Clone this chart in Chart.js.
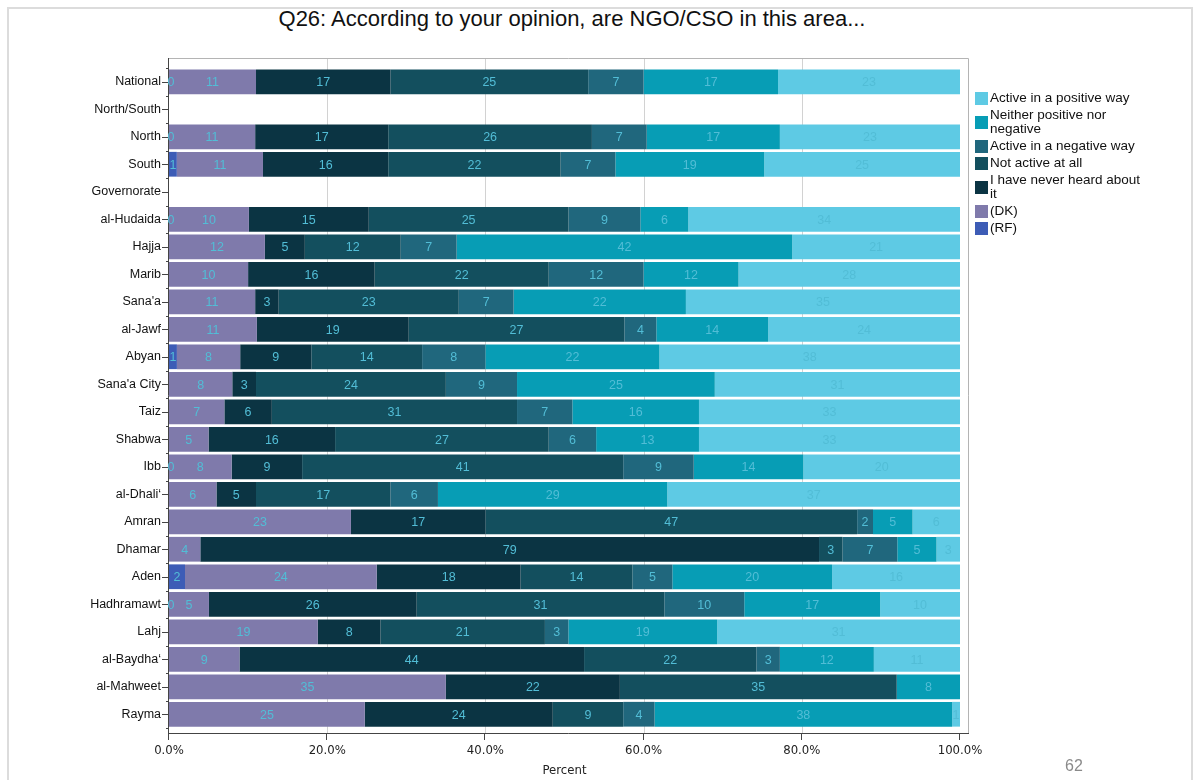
<!DOCTYPE html>
<html lang="en">
<head>
    <meta charset="UTF-8">
    <title>Q26 NGO/CSO activity</title>
    <script src="https://cdn.jsdelivr.net/npm/chart.js"></script>
    <style>
        body {
            margin: 0;
            padding: 0;
            background: #fff;
            font-family: 'Liberation Sans', Arial, sans-serif;
        }
        .page {
            position: relative;
            width: 1198px;
            height: 780px;
            overflow: hidden;
        }
        .frame {
            position: absolute;
            left: 7px;
            top: 7px;
            width: 1182px;
            height: 820px;
            border: 2px solid #dcdcdc;
        }
        .title {
            position: absolute;
            left: 0;
            width: 1144px;
            top: 6px;
            text-align: center;
            font-size: 22px;
            color: #111;
        }
        canvas {
            position: absolute;
            left: 0;
            top: 0;
        }
        .legend {
            position: absolute;
            left: 975px;
            top: 91px;
            width: 178px;
            font-size: 13.5px;
            line-height: 14px;
            color: #111;
        }
        .legend .item {
            display: flex;
            align-items: center;
            margin-bottom: 3px;
        }
        .legend .sw {
            flex: none;
            width: 13px;
            height: 13px;
            margin-right: 2px;
        }
        .pagenum {
            position: absolute;
            left: 1065px;
            top: 757px;
            font-size: 16px;
            color: #8a8a8a;
        }
    </style>
</head>
<body>
<div class="page">
    <div class="frame"></div>
    <div class="title">Q26: According to your opinion, are NGO/CSO in this area...</div>
    <canvas id="chart" width="1198" height="780"></canvas>
    <div class="legend" id="legend"></div>
    <div class="pagenum">62</div>
</div>
<script>
    const areas = ['National', 'North/South', 'North', 'South', 'Governorate', 'al-Hudaida', 'Hajja', 'Marib',
        "Sana'a", 'al-Jawf', 'Abyan', "Sana'a City", 'Taiz', 'Shabwa', 'Ibb', 'al-Dhali\u2018', 'Amran', 'Dhamar',
        'Aden', 'Hadhramawt', 'Lahj', 'al-Baydha\u2018', 'al-Mahweet', 'Rayma'];

    // answer shares in percent, one entry per area (null = no answer / heading row)
    const refused     = [0, null, 0, 1, null, 0, null, null, null, null, 1, null, null, null, 0, null, null, null, 2, 0, null, null, null, null];
    const dontKnow    = [11, null, 11, 11, null, 10, 12, 10, 11, 11, 8, 8, 7, 5, 8, 6, 23, 4, 24, 5, 19, 9, 35, 25];
    const neverHeard  = [17, null, 17, 16, null, 15, 5, 16, 3, 19, 9, 3, 6, 16, 9, 5, 17, 79, 18, 26, 8, 44, 22, 24];
    const notActive   = [25, null, 26, 22, null, 25, 12, 22, 23, 27, 14, 24, 31, 27, 41, 17, 47, 3, 14, 31, 21, 22, 35, 9];
    const negativeWay = [7, null, 7, 7, null, 9, 7, 12, 7, 4, 8, 9, 7, 6, 9, 6, 2, 7, 5, 10, 3, 3, null, 4];
    const neither     = [17, null, 17, 19, null, 6, 42, 12, 22, 14, 22, 25, 16, 13, 14, 29, 5, 5, 20, 17, 19, 12, 8, 38];
    const positiveWay = [23, null, 23, 25, null, 34, 21, 28, 35, 24, 38, 31, 33, 33, 20, 37, 6, 3, 16, 10, 31, 11, null, 1];

    const xTicks = [0, 20, 40, 60, 80, 100];

    const series = [
        { label: '(RF)', values: refused, color: '#3d5cb6' },
        { label: '(DK)', values: dontKnow, color: '#7f7aab' },
        { label: 'I have never heard about it', values: neverHeard, color: '#0b3443' },
        { label: 'Not active at all', values: notActive, color: '#134f5e' },
        { label: 'Active in a negative way', values: negativeWay, color: '#20677d' },
        { label: 'Neither positive nor negative', values: neither, color: '#079db5' },
        { label: 'Active in a positive way', values: positiveWay, color: '#5ecae4' }
    ];

    // rounded shares don't always add up to 100, so each bar is scaled to its row total
    const rowTotals = areas.map((_, i) => series.reduce((s, d) => s + (d.values[i] || 0), 0));

    const datasets = series.map(s => ({
        label: s.label,
        raw: s.values,
        data: s.values.map((v, i) => v === null ? null : v / rowTotals[i] * 100),
        backgroundColor: s.color,
        borderWidth: 0,
        barPercentage: 0.9,
        categoryPercentage: 1.0
    }));

    const FRAME_TOP = 10, FRAME_BOTTOM = 5, FRAME_RIGHT = 8;

    // gridlines, frame and tick marks around the plot
    const framePlugin = {
        id: 'frame',
        beforeDatasetsDraw(chart) {
            const { ctx, chartArea: a, scales: { x } } = chart;
            ctx.save();
            ctx.strokeStyle = '#d2d2d2';
            ctx.lineWidth = 1;
            xTicks.slice(1, -1).forEach(t => {
                const px = Math.round(x.getPixelForValue(t)) + 0.5;
                ctx.beginPath();
                ctx.moveTo(px, a.top - FRAME_TOP);
                ctx.lineTo(px, a.bottom + FRAME_BOTTOM);
                ctx.stroke();
            });
            ctx.restore();
        },
        afterDatasetsDraw(chart) {
            const { ctx, chartArea: a, scales: { x, y } } = chart;
            const top = a.top - FRAME_TOP, bottom = a.bottom + FRAME_BOTTOM, right = a.right + FRAME_RIGHT;
            ctx.save();
            ctx.lineWidth = 1;
            ctx.strokeStyle = '#b4b4b4';
            ctx.beginPath();
            ctx.moveTo(a.left, top + 0.5);
            ctx.lineTo(right + 0.5, top + 0.5);
            ctx.lineTo(right + 0.5, bottom);
            ctx.stroke();

            ctx.strokeStyle = '#444';
            ctx.beginPath();
            ctx.moveTo(a.left - 0.5, top);
            ctx.lineTo(a.left - 0.5, bottom + 0.5);
            ctx.lineTo(right + 1, bottom + 0.5);
            ctx.stroke();

            // category ticks and short ticks on the band edges
            const band = (a.bottom - a.top) / areas.length;
            ctx.beginPath();
            areas.forEach((_, i) => {
                const cy = Math.round(y.getPixelForValue(i)) + 0.5;
                ctx.moveTo(a.left - 7, cy);
                ctx.lineTo(a.left, cy);
            });
            for (let i = 0; i <= areas.length; i++) {
                const by = Math.round(a.top + i * band) + 0.5;
                ctx.moveTo(a.left - 3, by);
                ctx.lineTo(a.left, by);
            }
            xTicks.forEach(t => {
                const px = Math.round(x.getPixelForValue(t)) - 0.5;
                ctx.moveTo(px, bottom);
                ctx.lineTo(px, bottom + 7);
            });
            ctx.stroke();
            ctx.restore();
        }
    };

    // value labels centred in each segment
    const valueLabels = {
        id: 'valueLabels',
        afterDatasetsDraw(chart) {
            const { ctx } = chart;
            ctx.save();
            ctx.font = '12.5px "Liberation Sans", Arial, sans-serif';
            ctx.fillStyle = '#52bdd6';
            ctx.textAlign = 'center';
            ctx.textBaseline = 'middle';
            chart.data.datasets.forEach((ds, di) => {
                const meta = chart.getDatasetMeta(di);
                meta.data.forEach((bar, i) => {
                    const v = ds.raw[i];
                    if (v === null) return;
                    const cx = (bar.x + bar.base) / 2;
                    ctx.fillText(String(v), cx + (v === 0 ? 2 : 0), bar.y + 1);
                });
            });
            ctx.restore();
        }
    };

    const narrowFont = "'Liberation Sans Narrow', 'Arial Narrow', 'DejaVu Sans Condensed', sans-serif";

    new Chart(document.getElementById('chart'), {
        type: 'bar',
        data: { labels: areas, datasets: datasets },
        options: {
            indexAxis: 'y',
            responsive: false,
            animation: false,
            devicePixelRatio: 1,
            layout: { padding: { top: 68, right: 238, bottom: 0, left: 0 } },
            plugins: {
                legend: { display: false },
                tooltip: { enabled: false }
            },
            scales: {
                x: {
                    stacked: true,
                    min: 0,
                    max: 100,
                    afterFit(scale) { scale.height = 52; },
                    afterBuildTicks(scale) { scale.ticks = xTicks.map(v => ({ value: v })); },
                    grid: { display: false, drawTicks: false },
                    border: { display: false },
                    ticks: {
                        padding: 15,
                        color: '#222',
                        font: { family: narrowFont, size: 13 },
                        callback: v => v.toFixed(1) + '%',
                        maxRotation: 0
                    },
                    title: {
                        display: true,
                        text: 'Percent',
                        color: '#222',
                        font: { family: narrowFont, size: 13 },
                        padding: { top: 0, bottom: 2 }
                    }
                },
                y: {
                    stacked: true,
                    afterFit(scale) { scale.width = 169; },
                    grid: { display: false, drawTicks: false },
                    border: { display: false },
                    ticks: {
                        padding: 8,
                        color: '#111',
                        autoSkip: false,
                        font: { family: "'Liberation Sans', Arial, sans-serif", size: 12.5 }
                    }
                }
            }
        },
        plugins: [framePlugin, valueLabels]
    });

    // legend, listed from the top category down
    const legend = document.getElementById('legend');
    const legendText = {
        'Neither positive nor negative': 'Neither positive nor<br>negative',
        'I have never heard about it': 'I have never heard about<br>it'
    };
    series.slice().reverse().forEach(s => {
        const item = document.createElement('div');
        item.className = 'item';
        item.innerHTML = '<span class="sw" style="background:' + s.color + '"></span><span>' +
            (legendText[s.label] || s.label) + '</span>';
        legend.appendChild(item);
    });
</script>
</body>
</html>
